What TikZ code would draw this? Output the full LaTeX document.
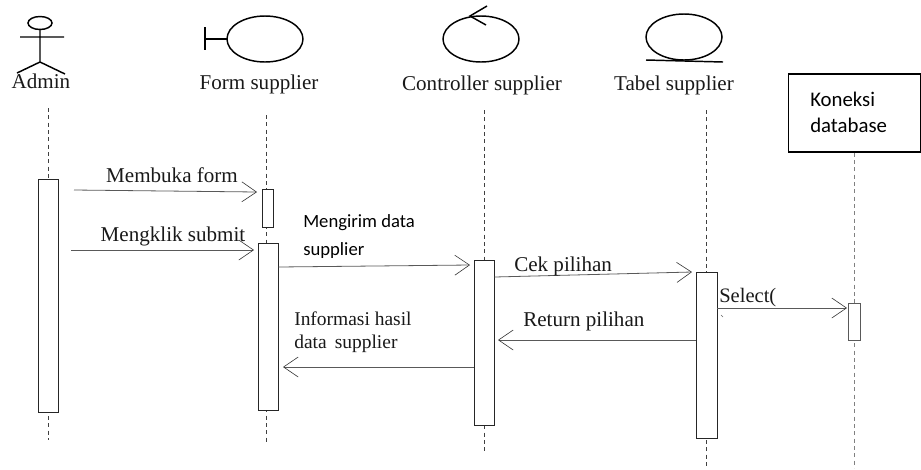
\documentclass[tikz,border=0pt]{standalone}
\usepackage{fontspec}
\setmainfont{Liberation Serif}
\newfontfamily\carlitofont{Carlito}
\usetikzlibrary{arrows.meta}
\tikzset{
  icon/.style={draw=black,line width=1.1pt},
  barbox/.style 2 args={draw=black!85,fill=white,line width=0.7pt,inner sep=0pt,minimum width=#1*0.75pt,minimum height=#2*0.75pt},
  life/.style={draw=black!75,line width=0.5pt,dash pattern=on 3pt off 2.5pt},
  msg/.style={draw=black!65,line width=0.6pt,-{Straight Barb[length=11pt,width=15pt,black!80,line width=0.45pt]}},
  lbl/.style={font=\fontsize{15.8pt}{18pt}\selectfont,text=black!90,inner sep=0pt},
  clbl/.style={font=\carlitofont\fontsize{14pt}{21.7pt}\selectfont,text=black,inner sep=0pt,align=left},
}
\begin{document}
\begin{tikzpicture}[x=0.75pt,y=-0.75pt]
\useasboundingbox (0,0) rectangle (921,469);
% lifeline ends
\coordinate (l1a) at (48,108); \coordinate (l1b) at (48,440);
\coordinate (l2a) at (266,115); \coordinate (l2b) at (266,442);
\coordinate (l3a) at (484,110); \coordinate (l3b) at (484,452);
\coordinate (l4a) at (706,110); \coordinate (l4b) at (706,468);
\coordinate (l5b) at (854,468);
% koneksi box
\node[draw=black,line width=1pt,fill=white,inner sep=0pt,minimum width=132*0.75pt,minimum height=78*0.75pt] (kon) at (854.5,113) {};
\node[clbl,anchor=west,font=\carlitofont\fontsize{15.6pt}{19.5pt}\selectfont] (kont) at (810,112) {Koneksi\\database};
\draw[life] (l1a) -- (l1b);
\draw[life] (l2a) -- (l2b);
\draw[life] (l3a) -- (l3b);
\draw[life] (l4a) -- (l4b);
\draw[life,draw=black!50] (kon.south -| l5b) -- (l5b);
% bars
\node[barbox={20}{233}] (b1) at (48,295.5) {};
\node[barbox={11}{38}] (b2) at (267.5,208) {};
\node[barbox={20}{167}] (b3) at (268,326.5) {};
\node[barbox={20}{165}] (b4) at (484,342.5) {};
\node[barbox={21}{166}] (b5) at (706.5,355) {};
\node[barbox={12}{37},draw=black!65] (b6) at (854,321.5) {};
% actor
\draw[icon] (40,23) ellipse [x radius=12,y radius=6.5];
\draw[icon] (40,29) -- (40,62) (20,37) -- (64,37) (17,73) -- (40,62) -- (65,74);
% boundary
\draw[icon] (265,39) ellipse [x radius=38,y radius=23];
\draw[icon] (227,39) -- (205,39) (205,27) -- (205,50);
% control
\draw[icon] (481,39) ellipse [x radius=38,y radius=23];
\draw[icon] (487,6) -- (470,16) -- (486,25);
% entity
\draw[icon] (684,37) ellipse [x radius=38,y radius=23];
\draw[icon] (646,60) -- (723,62);
% head labels
\node[lbl] (admin) at (41,81) {Admin};
\node[lbl] (form) at (259,84) {Form supplier};
\node[lbl] (ctrl) at (482,85) {Controller supplier};
\node[lbl] (tabel) at (674,85) {Tabel supplier};
% messages
\coordinate (m1) at (74,190); \coordinate (m1e) at (257,192);
\coordinate (m2) at (71,250); \coordinate (m2e) at (254,250);
\draw[msg] (m1) -- (m1e);
\draw[msg] (m2) -- (m2e);
\coordinate (m3e) at (470,265);
\draw[msg] (b3.east |- 0,267) -- (m3e);
\coordinate (m4e) at (692,272);
\draw[msg] (b4.east |- 0,277) -- (m4e);
\coordinate (m5e) at (498,340);
\draw[msg] (b5.west |- 0,340) -- (m5e);
\coordinate (m6e) at (283,367);
\draw[msg] (b4.west |- 0,367) -- (m6e);
\coordinate (m7e) at (847,308);
\draw[msg] (b5.east |- 0,308) -- (m7e);
% message labels
\node[lbl] (t1) at (172,175) {Membuka form};
\node[lbl] (t2) at (173,236) {Mengklik submit};
\node[clbl,anchor=west] (t3) at (303,236.5) {Mengirim data\\supplier};
\node[lbl,anchor=west] (t4) at (514,266) {Cek pilihan};
\node[lbl,anchor=west] (t5) at (523,321) {Return pilihan};
\node[lbl,anchor=west,align=left,font=\fontsize{14.6pt}{17.3pt}\selectfont] (t6) at (294,332.5) {Informasi hasil\\data\, supplier};
\node[lbl,anchor=west,font=\fontsize{15.4pt}{18pt}\selectfont] (t7) at (719,298) {Select(};
\draw[black!60,line width=0.4pt] (721,315) -- (723,317);
\end{tikzpicture}
\end{document}
